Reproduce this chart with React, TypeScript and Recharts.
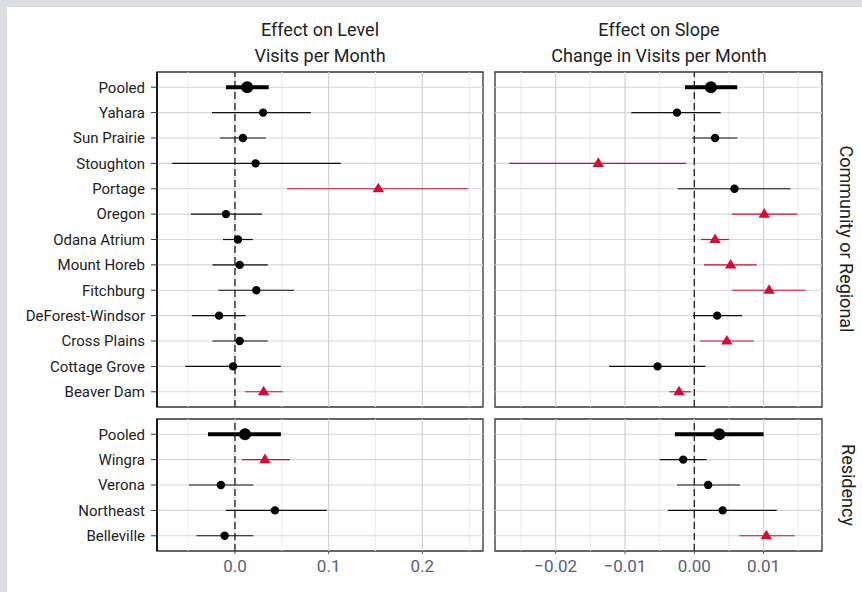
import React from "react"
import { ErrorBar, ReferenceArea, ReferenceLine, Scatter, ScatterChart, XAxis, YAxis } from "recharts"

const communityClinics = ["Pooled", "Yahara", "Sun Prairie", "Stoughton", "Portage", "Oregon", "Odana Atrium", "Mount Horeb", "Fitchburg", "DeForest-Windsor", "Cross Plains", "Cottage Grove", "Beaver Dam"]
const communityLevelEst = [0.013, 0.03, 0.0085, 0.022, 0.153, -0.0096, 0.0032, 0.005, 0.0228, -0.017, 0.005, -0.002, 0.0306]
const communityLevelLow = [-0.0096, -0.0245, -0.016, -0.067, 0.0555, -0.047, -0.0128, -0.024, -0.0178, -0.046, -0.024, -0.053, 0.0107]
const communityLevelHigh = [0.036, 0.081, 0.033, 0.113, 0.249, 0.0288, 0.019, 0.035, 0.063, 0.0114, 0.035, 0.049, 0.051]
const communitySlopeEst = [0.0024, -0.0025, 0.003, -0.01385, 0.0058, 0.0101, 0.003, 0.00525, 0.0108, 0.0033, 0.0047, -0.0053, -0.0022]
const communitySlopeLow = [-0.00134, -0.0091, -0.0003, -0.0267, -0.0024, 0.0054, 0.00097, 0.0014, 0.0054, -0.0002, 0.0008, -0.0123, -0.0036]
const communitySlopeHigh = [0.0062, 0.0038, 0.0062, -0.00115, 0.0139, 0.01486, 0.005, 0.009, 0.0161, 0.0069, 0.0086, 0.0016, -0.0005]

const residencyClinics = ["Pooled", "Wingra", "Verona", "Northeast", "Belleville"]
const residencyLevelEst = [0.0107, 0.032, -0.015, 0.0427, -0.011]
const residencyLevelLow = [-0.0288, 0.0075, -0.049, -0.0096, -0.041]
const residencyLevelHigh = [0.049, 0.0587, 0.0196, 0.098, 0.0196]
const residencySlopeEst = [0.0036, -0.0016, 0.002, 0.0041, 0.0104]
const residencySlopeLow = [-0.0028, -0.005, -0.0025, -0.0038, 0.0065]
const residencySlopeHigh = [0.01, 0.0018, 0.0066, 0.0119, 0.0145]

const levelTicks = [0, 0.1, 0.2]
const levelMinor = [-0.05, 0.05, 0.15, 0.25]
const slopeTicks = [-0.02, -0.01, 0, 0.01]
const slopeMinor = [-0.025, -0.015, -0.005, 0.005, 0.015]

const LEVEL_DOMAIN: [number, number] = [-0.0832, 0.2647]
const SLOPE_DOMAIN: [number, number] = [-0.02876, 0.01843]

const RED = "#cf1036"
const FONT = "Roboto, 'Noto Sans', sans-serif"

type Row = { x: number; y: number; err: [number, number]; kind: string }

function buildRows(est: number[], low: number[], high: number[]): Row[] {
  return est.map((e, i) => ({
    x: e,
    y: i + 1,
    err: [e - low[i], high[i] - e],
    kind: i === 0 ? "pooled" : low[i] > 0 || high[i] < 0 ? "sig" : "ns",
  }))
}

const Mark = (props: any) => {
  const { cx, cy, payload } = props
  if (cx == null || cy == null) return null
  if (payload.kind === "sig") {
    return <polygon points={`${cx},${cy - 6} ${cx - 5.8},${cy + 3.6} ${cx + 5.8},${cy + 3.6}`} fill={RED} />
  }
  return <circle cx={cx} cy={cy} r={payload.kind === "pooled" ? 6 : 4.2} fill="#000" />
}

function Panel(props: {
  rows: Row[]
  labels: string[]
  domain: [number, number]
  ticks: number[]
  minor: number[]
  fmt: (v: number) => string
  showY: boolean
  showX: boolean
  left: number
  top: number
  plotW: number
  plotH: number
}) {
  const { rows, labels, domain, ticks, minor, fmt, showY, showX, left, top, plotW, plotH } = props
  const yw = showY ? 157 : 0
  const xh = showX ? 40 : 0
  const pad = 5
  const n = labels.length
  const yDomain: [number, number] = [0.4, n + 0.6]
  const rowIdx = labels.map((_, i) => i + 1)
  const series = [
    { kind: "ns", stroke: "#111", width: 1.2 },
    { kind: "sig", stroke: RED, width: 1.2 },
    { kind: "pooled", stroke: "#000", width: 3.8 },
  ]
  return (
    <div style={{ position: "absolute", left: left - yw - pad, top: top - pad }}>
      <ScatterChart
        width={yw + plotW + 2 * pad}
        height={plotH + xh + 2 * pad}
        margin={{ top: pad, right: pad, bottom: pad, left: pad }}
      >
        <XAxis
          type="number"
          dataKey="x"
          domain={domain}
          allowDataOverflow
          ticks={ticks}
          interval={0}
          hide={!showX}
          height={xh}
          tickFormatter={fmt}
          axisLine={false}
          tickLine={{ stroke: "#555" }}
          tickSize={3}
          tickMargin={6}
          tick={{ fill: "#58607c", fontSize: 17, fontFamily: FONT }}
        />
        <YAxis
          type="number"
          dataKey="y"
          domain={yDomain}
          allowDataOverflow
          reversed
          ticks={rowIdx}
          interval={0}
          hide={!showY}
          width={yw}
          tickFormatter={(v: number) => labels[v - 1] ?? ""}
          axisLine={{ stroke: "#000", strokeWidth: 1.6 }}
          tickLine={{ stroke: "#333" }}
          tickSize={6}
          tickMargin={6}
          tick={{ fill: "#222", fontSize: 15, fontFamily: FONT }}
        />
        {minor.map((v) => (
          <ReferenceLine key={"m" + v} x={v} stroke="#ececec" strokeWidth={1} />
        ))}
        {ticks.map((v) => (
          <ReferenceLine key={"t" + v} x={v} stroke="#d2d2d2" strokeWidth={1.2} />
        ))}
        {rowIdx.map((v) => (
          <ReferenceLine key={"r" + v} y={v} stroke="#d6d6d6" strokeWidth={1.2} />
        ))}
        <ReferenceLine x={0} stroke="#111" strokeWidth={1.2} strokeDasharray="7 4" />
        {series.map((s) => (
          <Scatter
            key={s.kind}
            data={rows.filter((r) => r.kind === s.kind)}
            shape={Mark}
            isAnimationActive={false}
          >
            <ErrorBar dataKey="err" direction="x" width={0} stroke={s.stroke} strokeWidth={s.width} isAnimationActive={false} />
          </Scatter>
        ))}
        <ReferenceArea x1={domain[0]} x2={domain[1]} y1={yDomain[0]} y2={yDomain[1]} fill="none" stroke="#333" strokeWidth={1.3} fillOpacity={0} />
      </ScatterChart>
    </div>
  )
}

const fmtLevel = (v: number) => v.toFixed(1)
const fmtSlope = (v: number) => v.toFixed(2).replace("-", "\u2212")

export default function App() {
  const cLevel = buildRows(communityLevelEst, communityLevelLow, communityLevelHigh)
  const cSlope = buildRows(communitySlopeEst, communitySlopeLow, communitySlopeHigh)
  const rLevel = buildRows(residencyLevelEst, residencyLevelLow, residencyLevelHigh)
  const rSlope = buildRows(residencySlopeEst, residencySlopeLow, residencySlopeHigh)

  const titleStyle: React.CSSProperties = {
    position: "absolute",
    width: 340,
    textAlign: "center",
    fontFamily: FONT,
    fontSize: 18,
    color: "#222",
    lineHeight: "26px",
  }
  const stripStyle: React.CSSProperties = {
    position: "absolute",
    width: 300,
    textAlign: "center",
    fontFamily: FONT,
    fontSize: 18,
    color: "#222",
    transform: "rotate(90deg)",
    transformOrigin: "center center",
    lineHeight: "20px",
  }

  return (
    <div style={{ position: "absolute", left: 0, top: 0, width: 862, height: 592, background: "#dcdde0", overflow: "hidden" }}>
      <div style={{ position: "absolute", left: 7, top: 7, right: 0, bottom: 0, background: "#fff" }} />
      <div style={{ ...titleStyle, left: 320 - 170, top: 17 }}>
        Effect on Level
        <br />
        Visits per Month
      </div>
      <div style={{ ...titleStyle, left: 659 - 170, top: 17 }}>
        Effect on Slope
        <br />
        Change in Visits per Month
      </div>
      <Panel rows={cLevel} labels={communityClinics} domain={LEVEL_DOMAIN} ticks={levelTicks} minor={levelMinor} fmt={fmtLevel} showY showX={false} left={157} top={72} plotW={326} plotH={335} />
      <Panel rows={cSlope} labels={communityClinics} domain={SLOPE_DOMAIN} ticks={slopeTicks} minor={slopeMinor} fmt={fmtSlope} showY={false} showX={false} left={495} top={72} plotW={327} plotH={335} />
      <Panel rows={rLevel} labels={residencyClinics} domain={LEVEL_DOMAIN} ticks={levelTicks} minor={levelMinor} fmt={fmtLevel} showY showX left={157} top={419} plotW={326} plotH={132} />
      <Panel rows={rSlope} labels={residencyClinics} domain={SLOPE_DOMAIN} ticks={slopeTicks} minor={slopeMinor} fmt={fmtSlope} showY={false} showX left={495} top={419} plotW={327} plotH={132} />
      <div style={{ ...stripStyle, left: 846 - 150, top: 239 - 10 }}>Community or Regional</div>
      <div style={{ ...stripStyle, left: 848 - 150, top: 485 - 10 }}>Residency</div>
    </div>
  )
}
